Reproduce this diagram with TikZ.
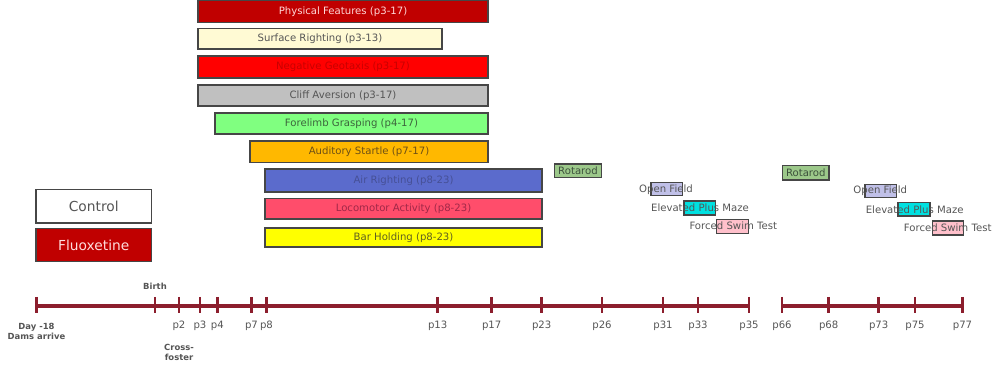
\documentclass[tikz,border=0pt]{standalone}
\usepackage{fontspec}
\setmainfont{DejaVu Sans}

\definecolor{tline}{RGB}{140,30,45}
\definecolor{lab}{RGB}{85,85,85}
\definecolor{edge}{RGB}{70,70,70}
\definecolor{physc}{RGB}{192,0,0}
\definecolor{surfc}{RGB}{255,250,212}
\definecolor{negc}{RGB}{255,0,0}
\definecolor{cliffc}{RGB}{192,192,192}
\definecolor{forec}{RGB}{128,255,128}
\definecolor{audc}{RGB}{255,184,0}
\definecolor{airc}{RGB}{91,107,204}
\definecolor{lococ}{RGB}{255,77,107}
\definecolor{barc}{RGB}{255,255,0}
\definecolor{rotac}{RGB}{156,200,138}
\definecolor{ofc}{RGB}{192,192,232}
\definecolor{epmc}{RGB}{0,224,224}
\definecolor{fstc}{RGB}{255,192,203}

\begin{document}
\begin{tikzpicture}
[
  x=0.025cm, y=-0.025cm,
	txt/.style={font=\fontsize{7.2}{8.6}\selectfont,text=lab,inner sep=0},
	bar/.style={thick,draw=edge},
	grp/.style={thick,draw=edge,font=\fontsize{9.8}{11}\selectfont,inner sep=0},
	tick/.style={draw=tline,line width=2pt},
	small/.style={font=\fontsize{6}{7.2}\selectfont\bfseries,text=lab,inner sep=0,align=center},
	test/.style={draw=edge,thick}
]
\useasboundingbox (0,0) rectangle (1002,372);

% group legend
\draw (36,189.5) rectangle (151.5,223) [grp,fill=white] node[midway,text=lab] (control) {Control};
\draw (36,228.5) rectangle (151.5,261.5) [grp,fill=physc] node[midway,text={rgb,255:red,255;green,220;blue,220}] (fluox) {Fluoxetine};

% early tests
\draw (198,0.5) rectangle (488,22.5) [bar,fill=physc] node[midway,txt,text={rgb,255:red,255;green,215;blue,215}] (phys) {Physical Features (p3-17)};
\draw (198,28.5) rectangle (442,49) [bar,fill=surfc] node[midway,txt] (surf) {Surface Righting (p3-13)};
\draw (198,56) rectangle (488,78) [bar,fill=negc] node[midway,txt,text={rgb,255:red,200;green,0;blue,0}] (neg) {Negative Geotaxis (p3-17)};
\draw (198,85) rectangle (488,106) [bar,fill=cliffc] node[midway,txt] (cliff) {Cliff Aversion (p3-17)};
\draw (215,113) rectangle (488,134) [bar,fill=forec] node[midway,txt,text={rgb,255:red,60;green,100;blue,60}] (fore) {Forelimb Grasping (p4-17)};
\draw (250,141) rectangle (488,162.5) [bar,fill=audc] node[midway,txt,text={rgb,255:red,110;green,80;blue,20}] (aud) {Auditory Startle (p7-17)};
\draw (265,169) rectangle (542,192) [bar,fill=airc] node[midway,txt,text={rgb,255:red,70;green,80;blue,150}] (air) {Air Righting (p8-23)};
\draw (265,198.5) rectangle (542,219) [bar,fill=lococ] node[midway,txt,text={rgb,255:red,160;green,40;blue,72}] (loco) {Locomotor Activity (p8-23)};
\draw (265,228) rectangle (542,247) [bar,fill=barc] node[midway,txt,text={rgb,255:red,96;green,96;blue,32}] (hold) {Bar Holding (p8-23)};

% juvenile tests
\draw (554.5,164) rectangle (601.5,177.5) [test,fill=rotac] node[midway,txt,text={rgb,255:red,60;green,80;blue,60}] (rota1) {Rotarod};
\draw (651,182.5) rectangle (682.5,195.5) [test,fill=ofc];
\node[txt] (of1) at (666,189.3) {Open Field};
\draw (684,201) rectangle (715.5,215) [test,fill=epmc];
\node[txt] (epm1) at (700,207.7) {Elevated Plus Maze};
\draw (716.5,219.5) rectangle (748.5,233.5) [test,fill=fstc];
\node[txt] (fst1) at (733.3,226.2) {Forced Swim Test};

% adult tests
\draw (782.5,165.5) rectangle (829,180) [test,fill=rotac] node[midway,txt,text={rgb,255:red,60;green,80;blue,60}] (rota2) {Rotarod};
\draw (865,184.5) rectangle (896.5,197.5) [test,fill=ofc];
\node[txt] (of2) at (880.3,191) {Open Field};
\draw (898,202.5) rectangle (930,216) [test,fill=epmc];
\node[txt] (epm2) at (914.7,209.7) {Elevated Plus Maze};
\draw (932.5,221) rectangle (963.5,235) [test,fill=fstc];
\node[txt] (fst2) at (947.7,228.2) {Forced Swim Test};

% timeline
\draw[tline,line width=2.2pt] (36.5,306) -- (749,306);
\draw[tline,line width=2.2pt] (782,306) -- (962.5,306);
\foreach \x/\d in {36.5/,155/,179/p2,200/p3,217.3/p4,251.5/p7,266.5/p8,437.7/p13,491.7/p17,541.7/p23,602/p26,663/p31,698/p33,749/p35,782/p66,828.7/p68,878.7/p73,915/p75,962.5/p77}
{
  \draw[tick] (\x,297) -- (\x,313);
  \node[txt] (t\x) at (\x,325.5) {\d};
}
\node[small] (day) at (36.5,331) {Day -18\\Dams arrive};
\node[small] (birth) at (155,286.5) {Birth};
\node[small] (cross) at (179,352.5) {Cross-\\foster};

\end{tikzpicture}
\end{document}
